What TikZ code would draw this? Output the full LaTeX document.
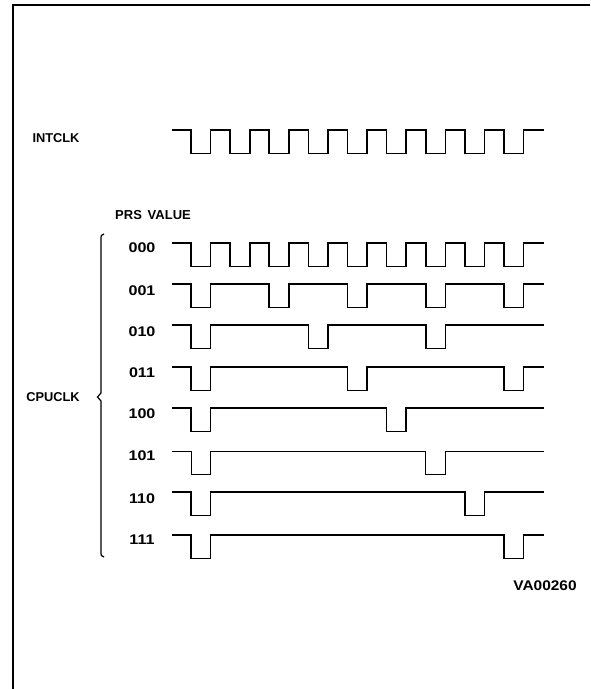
\documentclass[tikz,border=0pt]{standalone}
\usepackage{fontspec}
\setmainfont{Liberation Sans}
\begin{document}
\begin{tikzpicture}[x=1pt,y=-1pt,
  lbl/.style={font=\fontsize{12.8}{13}\selectfont\bfseries, inner sep=0pt},
  num/.style={font=\fontsize{14}{15}\selectfont\bfseries, inner sep=0pt, xscale=1.15},
  wave/.style={line width=1.7pt, line join=miter},
  thinwave/.style={line width=1.0pt, line join=miter},
  frame/.style={line width=2.6pt}]
\useasboundingbox (0,0) rectangle (590,689);
% frame (left and top only)
\draw[frame] (13,689) -- (13,5) -- (590,5);
\def\P{39.125}
\def\W{19.6}
\def\D{23.5}
% INTCLK
\node[lbl] (intclk) at (56,138) {INTCLK};
\draw[wave] (172,130) \foreach \k in {0,...,8} { -- ({191+\P*\k},130) -- ++(0,\D) -- ++(\W,0) -- ++(0,-\D) } -- (544,130);
% PRS value header
\node[lbl, font=\fontsize{13}{14}\selectfont\bfseries] (prs) at (153,215) {PRS\ \,VALUE};
% rows
\node[num] (r000) at (142,248) {000};
\draw[wave] (172,243) \foreach \k in {0,...,8} { -- ({191+\P*\k},243) -- ++(0,\D) -- ++(\W,0) -- ++(0,-\D) } -- (544,243);
\node[num] (r001) at (142,291) {001};
\draw[wave] (172,284) \foreach \k in {0,2,4,6,8} { -- ({191+\P*\k},284) -- ++(0,\D) -- ++(\W,0) -- ++(0,-\D) } -- (544,284);
\node[num] (r010) at (142,332) {010};
\draw[wave] (172,325) \foreach \k in {0,3,6} { -- ({191+\P*\k},325) -- ++(0,\D) -- ++(\W,0) -- ++(0,-\D) } -- (544,325);
\node[num] (r011) at (142,373) {011};
\draw[wave] (172,367) \foreach \k in {0,4,8} { -- ({191+\P*\k},367) -- ++(0,\D) -- ++(\W,0) -- ++(0,-\D) } -- (544,367);
\node[num] (r100) at (142,414) {100};
\draw[wave] (172,408) \foreach \k in {0,5} { -- ({191+\P*\k},408) -- ++(0,\D) -- ++(\W,0) -- ++(0,-\D) } -- (544,408);
\node[num] (r101) at (142,456) {101};
\draw[thinwave] (172,451) \foreach \k in {0,6} { -- ({191+\P*\k},451) -- ++(0,\D) -- ++(\W,0) -- ++(0,-\D) } -- (544,451);
\node[num] (r110) at (142,499) {110};
\draw[wave] (172,492) \foreach \k in {0,7} { -- ({191+\P*\k},492) -- ++(0,\D) -- ++(\W,0) -- ++(0,-\D) } -- (544,492);
\node[num] (r111) at (142,540) {111};
\draw[wave] (172,535) \foreach \k in {0,8} { -- ({191+\P*\k},535) -- ++(0,\D) -- ++(\W,0) -- ++(0,-\D) } -- (544,535);
% CPUCLK and brace
\node[lbl] (cpuclk) at (53,397) {CPUCLK};
\draw[line width=1.2pt] (104,234) .. controls (101,235) .. (101,240) -- (101,393) -- (97.5,397) -- (101,401) -- (101,551) .. controls (101,556) .. (104,557);
% figure id
\node[num, xscale=0.96] (vaid) at (545,586) {VA00260};
\end{tikzpicture}
\end{document}
